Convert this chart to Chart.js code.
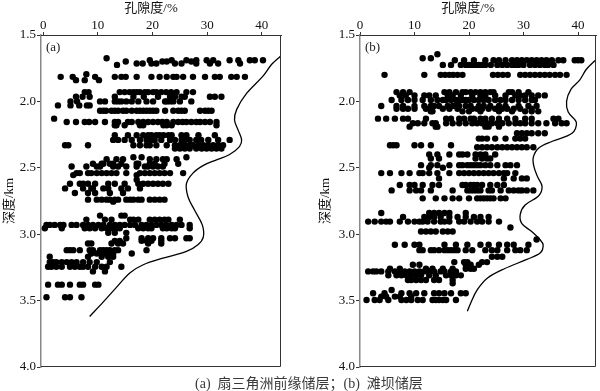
<!DOCTYPE html>
<html>
<head>
<meta charset="utf-8">
<script src="https://cdn.jsdelivr.net/npm/chart.js@4.4.1/dist/chart.umd.min.js"></script>
<style>
  html, body { margin: 0; padding: 0; background: #fff; }
  #wrap { position: relative; width: 600px; height: 391px; overflow: hidden; }
  canvas { position: absolute; top: 0; }
  #chartA { left: 0; }
  #chartB { left: 300px; }
  #caption {
    position: absolute; left: 195px; top: 372px; white-space: nowrap;
    font-family: "Liberation Serif", "Noto Sans CJK SC", serif; font-size: 14px; color: #3a3a3a;
  }
</style>
</head>
<body>
<div id="wrap">
  <canvas id="chartA" width="292" height="376"></canvas>
  <canvas id="chartB" width="300" height="376"></canvas>
  <div id="caption">(a)&nbsp; 扇三角洲前缘储层；(b)&nbsp; 滩坝储层</div>
</div>
<script>
// axis ticks
const porosityTicks = [0, 10, 20, 30, 40];
const depthTicks = [1.5, 2.0, 2.5, 3.0, 3.5, 4.0];
const depthTickLabels = ['1.5', '2.0', '2.5', '3.0', '3.5', '4.0'];

// (a) fan delta front: rows of samples, depth (km) -> porosity (%)
const depthRowsA = [1.675, 1.69, 1.70, 1.715, 1.725, 1.795, 1.815, 1.84, 1.93, 1.965, 2.0, 2.03, 2.07,
  2.13, 2.155, 2.18, 2.255, 2.29, 2.33, 2.355, 2.42, 2.435, 2.47, 2.49, 2.54, 2.555, 2.59, 2.62, 2.655,
  2.69, 2.74, 2.755, 2.86, 2.89, 2.93, 2.955, 2.99, 3.03, 3.05, 3.07, 3.12, 3.145, 3.17, 3.21, 3.245,
  3.28, 3.38, 3.475];
const porosityRowsA = [
  [11.6],
  [19.5, 23.5, 26.2, 28.0, 29.9, 31.1, 34.1, 35.7, 37.8, 38.7, 40.2],
  [15.1, 21.8, 22.6, 27.1],
  [17.1, 18.2, 19.8, 20.7, 24.1, 25.3, 28.0, 30.5, 32.0, 36.0],
  [13.5],
  [7.9],
  [3.2, 5.4, 9.5, 13.1, 14.3, 15.1, 17.1, 19.8, 21.3, 22.6, 23.8, 24.4, 25.6, 27.4, 29.6, 31.4, 32.3, 34.4, 35.4, 36.9],
  [6.0, 7.6, 10.2],
  [7.6, 8.3, 14.0, 14.9, 15.8, 16.5, 17.1, 17.7, 18.6, 19.2, 20.1, 20.7, 21.6, 22.5, 23.4, 24.4, 26.2, 27.4],
  [6.0, 7.2, 8.5, 13.1, 16.5, 18.4, 21.0, 23.2, 24.1, 25.3, 25.9, 30.5, 31.4, 32.6],
  [5.0, 6.2, 10.4, 11.3, 13.1, 13.7, 14.3, 15.2, 16.2, 17.4, 18.9, 20.1, 22.3, 22.6, 23.2, 23.8, 25.0, 27.1],
  [2.7, 5.0, 6.6, 8.0, 8.5],
  [10.4, 11.0, 11.5, 12.5, 13.1, 13.7, 14.6, 15.2, 16.2, 17.1, 17.7, 18.3, 18.9, 19.5, 20.1, 20.7, 22.3, 23.8, 24.7, 25.3, 25.9, 28.7, 29.6, 30.2, 30.8],
  [2.0],
  [4.3, 6.0, 7.6, 8.4, 9.5, 11.3, 13.1, 13.7, 15.5, 16.2, 17.4, 18.3, 19.2, 20.1, 21.0, 21.8, 22.6, 23.8, 24.7, 25.5, 26.2, 27.1, 28.0, 28.7, 29.6, 30.5, 31.7],
  [13.1, 13.4, 14.9, 17.7, 18.3, 22.0, 22.6, 23.5, 31.7],
  [13.1, 15.5, 17.1, 18.3, 19.2, 19.8, 20.7, 21.3, 22.0, 22.9, 23.5, 25.3, 26.2, 28.4, 31.4],
  [12.8, 13.7, 14.9, 16.2, 17.7, 18.9, 19.8, 20.4, 21.6, 23.2, 24.1, 25.3, 25.9, 26.8, 28.0, 28.9, 30.2, 32.0, 34.1],
  [4.0, 4.6, 8.2, 16.5, 17.7, 18.9, 19.5, 20.7, 22.6, 24.1, 25.0, 25.9, 26.8, 27.4, 28.4, 29.3, 30.2, 31.1, 32.0, 32.9],
  [24.1, 25.0, 25.9, 26.8, 28.0, 29.0, 29.9, 30.8, 31.7, 32.6],
  [16.5, 18.0, 26.2],
  [11.6, 13.4, 14.6, 19.5, 20.7, 21.9, 22.6, 24.4],
  [9.1, 10.7, 11.0, 12.2, 12.8, 14.3, 17.1, 17.4, 19.5, 20.4, 22.2, 24.7],
  [5.2, 7.9, 9.8, 10.4, 12.8, 13.7, 15.2, 17.1, 18.6, 19.2, 20.1, 21.0, 21.9],
  [6.1, 6.7, 8.2, 8.8, 9.8, 10.7, 11.6, 12.5, 13.4, 15.2, 17.7, 18.6, 19.5, 20.4, 21.3, 22.2, 23.2, 25.6],
  [5.5, 17.1],
  [17.1],
  [4.9, 6.7, 7.3, 8.2, 9.5, 11.9, 13.1, 14.9, 17.4, 18.3, 19.2, 20.1, 21.0, 21.9, 22.9],
  [4.0, 7.3, 8.8, 9.1, 11.0, 11.9, 14.3, 15.5, 17.7],
  [5.8, 8.2, 9.5, 12.2, 14.6],
  [8.2, 9.8, 10.7, 11.6, 12.2, 13.1, 13.7, 15.2, 15.9, 16.5, 17.4, 18.0, 19.5, 20.4, 21.3, 22.2],
  [12.8],
  [10.4, 14.3, 14.9],
  [7.9, 11.3, 12.5, 15.9, 16.5, 17.4, 19.5, 20.4, 21.3, 22.2, 22.9, 25.0],
  [0.6, 1.2, 2.1, 3.1, 3.7, 5.2, 6.1, 7.3, 8.2, 9.1, 10.1, 11.0, 12.2, 13.1, 14.0, 14.9, 15.9, 16.8, 18.0, 18.9, 19.8, 20.7, 21.6, 22.5, 23.5, 24.4, 25.3, 26.8],
  [0.3, 3.4, 7.6, 8.5, 9.5, 10.7, 11.6, 12.5, 13.4, 14.0, 17.4, 18.3, 19.2, 19.8, 21.9, 22.6, 23.5, 24.1, 26.8],
  [11.9, 13.1, 15.2],
  [15.2, 18.0, 19.2, 20.1, 21.6, 23.2, 24.1, 26.2, 26.8],
  [13.1, 14.0, 18.0, 18.9, 19.8, 21.6],
  [8.2, 8.8, 12.5, 13.7, 14.6, 19.2, 21.6],
  [4.3, 4.9, 5.5, 6.7, 8.5, 9.1, 10.4, 11.0, 11.6, 12.2, 13.1, 13.7, 18.9],
  [8.8, 9.8, 10.7, 11.3, 12.2, 12.8, 16.2],
  [1.2, 8.2, 10.7, 11.9, 12.8],
  [1.2, 1.8, 2.4, 3.4, 4.3, 5.2, 6.1, 7.3, 8.5, 9.8, 12.2],
  [0.9, 1.5, 2.4, 3.4, 4.9, 5.8, 6.7, 7.3, 8.2, 9.5, 10.7, 11.6, 14.3],
  [9.1, 11.3],
  [0.9, 2.7, 3.4, 4.9, 6.7, 7.3, 9.5, 10.1],
  [0.6, 4.0, 4.9, 7.0]
];
const curveDepthA = [1.66, 1.72, 1.81, 1.94, 2.06, 2.14, 2.22, 2.29, 2.34, 2.40, 2.44, 2.48, 2.54, 2.62,
  2.72, 2.82, 2.93, 3.02, 3.08, 3.13, 3.18, 3.23, 3.29, 3.40, 3.51, 3.62];
const curvePorosityA = [43.4, 41.8, 40.2, 37.2, 35.4, 35.0, 35.7, 36.3, 35.9, 34.1, 31.7, 29.4, 27.4, 26.2,
  26.5, 27.7, 29.1, 29.3, 28.3, 26.2, 21.9, 18.3, 15.9, 13.4, 11.0, 8.5];

// (b) beach bar
const depthRowsB = [1.645, 1.675, 1.69, 1.725, 1.80, 1.93, 1.955, 1.99, 2.035, 2.055, 2.075, 2.13, 2.165,
  2.19, 2.24, 2.28, 2.33, 2.345, 2.40, 2.43, 2.48, 2.50, 2.54, 2.58, 2.63, 2.67, 2.73, 2.84, 2.87, 2.905,
  2.95, 2.98, 3.04, 3.08, 3.12, 3.17, 3.21, 3.23, 3.26, 3.28, 3.31, 3.345, 3.37, 3.42, 3.445, 3.47, 3.495];
const porosityRowsB = [
  [14.2],
  [11.5, 13.0],
  [17.4, 19.1, 20.9, 23.0, 24.5, 25.5, 26.7, 27.9, 28.8, 29.7, 30.6, 31.5, 32.4, 33.3, 34.2, 35.2, 36.4, 37.3, 39.4, 40.0, 40.6],
  [15.2, 16.7, 18.5, 19.4, 20.0, 20.6, 21.2, 21.8, 22.4, 23.0, 24.0, 25.2, 26.1, 27.0, 27.9, 28.5, 29.1, 30.0, 31.2, 32.1, 33.0, 33.9, 34.5, 35.5],
  [4.5, 11.8, 14.8, 15.6, 16.4, 17.1, 17.9, 18.8, 24.4, 25.3, 26.2, 27.1, 29.4, 30.3, 31.2, 32.1, 33.0, 33.9, 34.8, 35.8, 36.7, 37.9],
  [6.7, 7.9, 9.1, 15.5, 16.4, 17.6, 18.8, 19.4, 20.3, 21.2, 22.1, 23.0, 23.9, 24.5, 27.3, 27.9, 29.1, 30.9],
  [7.3, 8.4, 10.0, 11.8, 12.7, 13.9, 16.1, 17.0, 18.5, 20.6, 22.1, 23.0, 24.8, 26.7, 28.5, 29.4, 30.3, 31.5, 32.7, 33.9],
  [5.8, 7.6, 8.8, 10.0, 11.5, 13.0, 14.2, 15.2, 15.8, 16.7, 17.6, 18.2, 18.8, 19.4, 20.0, 20.9, 21.8, 22.7, 23.6, 24.8, 25.8, 26.7, 27.9, 29.1, 30.3, 31.5, 32.1],
  [3.9, 6.7, 7.9, 10.0, 11.8, 13.0, 13.6, 14.5, 16.1, 17.0, 17.6, 18.2, 19.4, 20.3, 21.8, 22.7, 23.9, 25.5, 26.7, 29.1, 30.9, 32.4],
  [6.7, 7.9, 8.8, 10.0, 12.1, 15.2, 16.4, 17.9, 20.6, 21.5, 22.4, 23.6, 24.8, 26.1, 27.0, 28.2, 29.4, 31.5],
  [13.0, 13.3, 18.8, 20.0, 22.1, 25.5, 27.9, 30.3, 31.5, 32.7],
  [3.3, 4.8, 6.4, 7.9, 8.8, 12.1, 15.8, 16.7, 18.2, 19.1, 20.3, 20.9, 22.1, 23.0, 24.2, 25.5, 27.0, 28.5, 30.3, 31.5, 35.5, 36.4],
  [9.7, 10.6, 11.8, 13.3, 13.9, 15.8, 17.0, 18.2, 19.4, 20.6, 21.5, 22.4, 23.3, 24.2, 25.2, 26.1, 27.3, 28.5, 29.4, 30.3, 31.5, 32.7, 34.2, 35.8, 37.0, 37.9],
  [9.1, 13.9, 14.2, 23.0, 23.6, 25.5],
  [28.8, 29.7, 30.6, 31.5, 32.7, 33.9],
  [21.8, 22.4, 23.3, 24.8, 26.7, 28.5, 29.4, 30.3],
  [5.5, 6.1, 6.7, 10.0, 11.2, 13.0, 16.7],
  [21.5, 22.4, 23.3, 24.2, 25.2, 26.1, 27.0, 27.9, 28.8, 29.7, 30.6, 31.8],
  [12.7, 14.2, 16.4, 18.2, 18.8, 19.7, 21.2, 22.1, 23.0, 24.8],
  [13.0, 14.5, 21.2, 22.4, 23.3, 23.9],
  [11.2, 13.0, 14.2, 16.4, 18.2, 18.8, 19.7, 20.3, 20.9, 21.5, 22.1, 23.0, 23.9, 25.2, 26.7, 27.6, 28.8],
  [12.7, 15.2],
  [3.9, 5.5, 7.6, 9.1, 10.9, 11.5, 12.7, 14.2, 16.4, 18.2, 19.1, 20.0, 20.9, 21.8, 22.7, 23.6, 24.5, 25.5, 26.4, 27.0, 28.5],
  [14.5, 26.4, 28.2, 29.7, 30.6],
  [7.3, 9.1, 10.0, 11.5, 13.3, 14.5, 18.8, 19.4, 20.3, 20.9, 21.5, 22.4, 23.9, 25.2, 26.4],
  [5.8, 9.1, 10.3, 11.2, 13.0, 17.0, 19.7, 20.3, 20.9, 21.5, 22.1, 23.6, 24.2, 25.8, 27.3, 28.2, 29.1, 29.7, 30.6, 31.8],
  [11.5, 13.9, 15.5, 17.0, 18.2, 20.0, 21.5, 22.1, 22.7, 23.3, 23.9, 24.5, 25.8, 26.7],
  [3.9, 12.7, 13.6, 14.5, 15.5, 16.4, 19.4],
  [7.9, 11.8, 12.7, 13.6, 14.8, 16.4, 17.9, 19.4, 20.9, 22.1, 23.6],
  [1.5, 2.7, 3.9, 4.8, 5.5, 7.3, 8.8, 10.0, 10.9, 11.5, 12.4, 13.6, 14.8, 15.5, 16.4, 18.2, 19.1, 20.3, 21.5, 22.4, 23.6, 25.5],
  [27.6],
  [11.2, 12.1, 13.0, 13.9, 15.2, 16.1, 17.0],
  [32.4],
  [6.4, 8.2, 10.0, 10.9, 15.5, 17.6, 19.7, 22.1, 23.6, 25.5, 27.0, 28.2, 30.9],
  [10.9, 11.5, 13.0, 13.6, 14.5, 15.5, 16.1, 16.7, 17.3, 17.9, 19.4, 20.6, 23.0, 24.2, 25.2, 27.0, 28.5, 29.4, 30.6],
  [24.2, 25.2, 26.1],
  [17.3, 19.1, 19.7, 22.4, 23.3],
  [9.7, 10.9, 19.4, 20.3, 21.8],
  [5.5, 7.3, 12.1, 13.3, 15.2, 17.0, 19.4, 20.3, 20.9],
  [1.5, 2.4, 3.0, 3.9, 5.2, 6.4, 7.3, 8.2, 9.1, 10.0, 10.9, 11.8, 12.7, 13.6, 14.8, 15.5, 16.7, 17.6],
  [5.2, 6.7, 7.6, 8.5, 9.4, 10.3, 11.2, 12.7, 13.9, 15.8, 16.7, 17.6, 18.5],
  [8.8, 9.4, 10.3, 11.2, 12.1, 13.6, 14.5, 17.0],
  [17.0],
  [5.8],
  [2.4, 4.5, 7.6, 9.1, 10.3, 11.8, 13.6, 14.5, 15.5, 16.7, 18.5, 19.4],
  [3.9, 4.8, 6.4, 7.3, 9.4],
  [1.2, 2.7, 3.6, 5.2, 7.6, 8.5, 9.4, 10.6, 11.5, 13.3, 13.9, 14.5, 15.2, 15.8, 17.6]
];
const curveDepthB = [1.69, 1.76, 1.84, 1.91, 2.0, 2.08, 2.16, 2.24, 2.30, 2.35, 2.42, 2.49, 2.57, 2.64,
  2.71, 2.78, 2.85, 2.92, 2.98, 3.04, 3.08, 3.14, 3.19, 3.26, 3.33, 3.42, 3.52, 3.58];
const curvePorosityB = [43.2, 41.5, 40.3, 38.7, 37.9, 38.2, 39.7, 38.9, 35.3, 32.8, 31.8, 31.9, 32.6, 33.4,
  32.8, 30.3, 29.4, 29.7, 31.5, 33.0, 33.6, 33.1, 30.6, 26.5, 23.4, 21.5, 20.3, 19.7];

const SERIF = '"Liberation Serif", "Noto Sans CJK SC", serif';

// frame around the plot, panel letter and the top axis title (sits a bit left of centre)
const framePlugin = {
  id: 'frame',
  afterDraw(chart, args, opts) {
    const { ctx, chartArea: a } = chart;
    ctx.save();
    ctx.strokeStyle = '#333';
    ctx.lineWidth = 1;
    ctx.beginPath();
    ctx.moveTo(a.left, a.top + 0.5);
    ctx.lineTo(a.right - 0.5, a.top + 0.5);
    ctx.lineTo(a.right - 0.5, a.bottom - 0.5);
    ctx.lineTo(a.left, a.bottom - 0.5);
    ctx.stroke();
    ctx.fillStyle = '#222';
    ctx.font = '13px ' + SERIF;
    ctx.textBaseline = 'middle';
    ctx.fillText(opts.label, a.left + 5, a.top + 13);
    ctx.fillStyle = '#111';
    ctx.textAlign = 'center';
    ctx.fillText(opts.title, (a.left + a.right) / 2 - 10, 9);
    ctx.restore();
  }
};

function renderPanel(canvasId, depthRows, porosityRows, curveDepth, curvePorosity, cfg) {
  const points = [];
  depthRows.forEach((d, i) => porosityRows[i].forEach(p => points.push({ x: p, y: d })));
  const curve = curveDepth.map((d, i) => ({ x: curvePorosity[i], y: d }));

  return new Chart(document.getElementById(canvasId), {
    type: 'scatter',
    data: {
      datasets: [
        { data: points, pointRadius: 3.2, pointBackgroundColor: '#000', pointBorderWidth: 0 },
        { data: curve, showLine: true, pointRadius: 0, borderColor: '#000', borderWidth: 1.3, tension: 0.35 },
      ],
    },
    options: {
      responsive: false,
      animation: false,
      layout: { padding: { left: 0, right: cfg.padRight, top: 0, bottom: 9 } },
      plugins: {
        legend: { display: false },
        tooltip: { enabled: false },
        frame: { label: cfg.label, title: '孔隙度/%' },
      },
      scales: {
        x: {
          type: 'linear',
          position: 'top',
          min: cfg.xMin,
          max: cfg.xMax,
          afterBuildTicks: s => { s.ticks = porosityTicks.map(v => ({ value: v })); },
          afterFit: s => { s.height = 35; },
          grid: { drawOnChartArea: false, tickLength: 3, color: '#333' },
          border: { color: '#333' },
          ticks: {
            color: '#111', padding: 0,
            font: { family: SERIF, size: 13, lineHeight: 1 },
            callback: v => String(v),
          },
        },
        y: {
          type: 'linear',
          reverse: true,
          min: 1.5,
          max: 4.0,
          afterBuildTicks: s => { s.ticks = depthTicks.map(v => ({ value: v })); },
          afterFit: s => { s.width = cfg.yWidth; },
          grid: { drawOnChartArea: false, tickLength: 4, color: '#333' },
          border: { color: '#888', width: 1.5 },
          ticks: {
            color: '#111', padding: 1,
            font: { family: SERIF, size: 13 },
            callback: (v, i) => depthTickLabels[i],
          },
          title: {
            display: true, text: '深度/km', color: '#111',
            font: { family: SERIF, size: 13 }, padding: { top: cfg.yTitlePad, bottom: 0 },
          },
        },
      },
    },
    plugins: [framePlugin],
  });
}

renderPanel('chartA', depthRowsA, porosityRowsA, curveDepthA, curvePorosityA,
  { label: '(a)', xMin: -0.4, xMax: 43.5, padRight: 11, yWidth: 41, yTitlePad: 2 });
renderPanel('chartB', depthRowsB, porosityRowsB, curveDepthB, curvePorosityB,
  { label: '(b)', xMin: 0, xMax: 43.3, padRight: 2, yWidth: 60, yTitlePad: 18 });
</script>
</body>
</html>
